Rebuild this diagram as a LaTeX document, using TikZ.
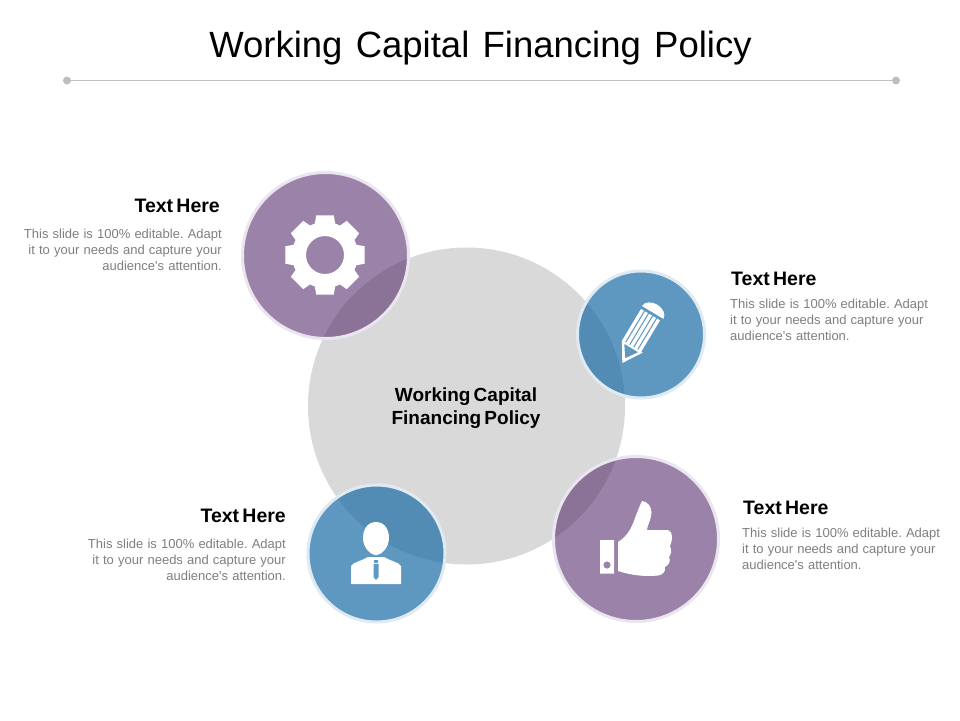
\documentclass[tikz,border=0pt]{standalone}
\usepackage{fontspec}
\setmainfont{Liberation Sans}[BoldFeatures={WordSpace=0.6}]
\newfontfamily\copyfont{Liberation Sans}[WordSpace=1.15]
\frenchspacing
\usetikzlibrary{calc,positioning}
\definecolor{ruleGray}{HTML}{BFBFBF}
\definecolor{hubGray}{HTML}{D9D9D9}
\definecolor{bodyGray}{HTML}{7F7F7F}
\definecolor{plum}{RGB}{88,47,110}
\definecolor{plumRing}{HTML}{EAE5EF}
\definecolor{sky}{RGB}{26,108,166}
\definecolor{skyRing}{HTML}{E0EAF3}
\definecolor{skyFace}{HTML}{5F98C1}
\tikzstyle{dot} = [circle, fill=ruleGray, inner sep=0pt, outer sep=0pt, minimum size=8pt]
\tikzstyle{plumDisc} = [circle, draw=plumRing, line width=3pt, fill=plum, fill opacity=0.6, inner sep=0pt, outer sep=0pt]
\tikzstyle{skyDisc} = [circle, draw=skyRing, line width=3pt, fill=sky, fill opacity=0.7, inner sep=0pt, outer sep=0pt]
\tikzstyle{heading} = [font={\fontsize{19.5}{22}\selectfont\bfseries}, inner sep=0pt]
\tikzstyle{bodyLeft} = [font={\fontsize{13}{16.2}\copyfont}, text=bodyGray, inner sep=0pt, align=right, anchor=north east]
\tikzstyle{bodyRight} = [font={\fontsize{13}{16.2}\copyfont}, text=bodyGray, inner sep=0pt, align=left, anchor=north west]
\begin{document}
\begin{tikzpicture}[x=1pt, y=-1pt]
  \useasboundingbox (0,0) rectangle (960,720);
  \fill[white] (0,0) rectangle (960,720);

  \node (title) at (480.5,48) {\fontsize{36.5}{44}\selectfont\spaceskip=13.3pt Working Capital Financing Policy};
  \node[dot] (dotLeft) at (67,80.5) {};
  \node[dot] (dotRight) at (896,80.5) {};
  \draw[ruleGray, line width=1pt] (dotLeft) -- (dotRight);

  \node[circle, fill=hubGray, inner sep=0pt, minimum size=317pt] (hub) at (466.5,406) {};
  \node[plumDisc, minimum size=166pt] (gearDisc) at (325.5,255.5) {};
  \node[skyDisc, minimum size=127pt] (pencilDisc) at (641,334.5) {};
  \node[skyDisc, minimum size=137pt] (personDisc) at (376.5,553.5) {};
  \node[plumDisc, minimum size=165pt] (thumbDisc) at (636,539) {};

  \node[heading, font={\fontsize{19}{22}\selectfont\bfseries}, align=center] (hubText) at (466,408) {Working Capital\\[1pt]Financing Policy};

  \node[heading, anchor=east] (gearHead) at (220,205.5) {Text Here};
  \node[bodyLeft] (gearBody) at (222,228.5) {This slide is 100\% editable. Adapt\\it to your needs and capture your\\audience's attention.};
  \node[heading, anchor=west] (pencilHead) at (731,278.5) {Text Here};
  \node[bodyRight] (pencilBody) at (730,298.5) {This slide is 100\% editable. Adapt\\it to your needs and capture your\\audience's attention.};
  \node[heading, anchor=east] (personHead) at (286,515.5) {Text Here};
  \node[bodyLeft] (personBody) at (286,538.5) {This slide is 100\% editable. Adapt\\it to your needs and capture your\\audience's attention.};
  \node[heading, anchor=west] (thumbHead) at (743,507.5) {Text Here};
  \node[bodyRight] (thumbBody) at (742,527.5) {This slide is 100\% editable. Adapt\\it to your needs and capture your\\audience's attention.};

  % gear
  \begin{scope}[shift={(325,255)}]
    \foreach \a in {0,45,...,315}
      \fill[white] (\a-19:32) -- (\a-12.5:40.5) -- (\a+12.5:40.5) -- (\a+19:32) -- cycle;
    \fill[white, even odd rule] (0,0) circle (33) (0,0) circle (19);
  \end{scope}

  % pencil
  \begin{scope}[shift={(622.3,363)}, rotate=-31]
    \fill[white, even odd rule] (0,0) -- (12.2,-19.5) -- (-12.2,-19.5) -- cycle
      (0,-5.5) -- (8.2,-17.5) -- (-8.2,-17.5) -- cycle;
    \foreach \s in {-11.8,-7.1,-2.4,2.3,7.0}
      \fill[white] (\s,-19) rectangle ++(3.4,-37);
    \fill[white] (-12.5,-59) arc[start angle=180, end angle=360, x radius=12.5, y radius=9] -- cycle;
  \end{scope}

  % person
  \fill[white] (376,522) .. controls (385,522) and (389,530) .. (389,538) .. controls (389,547) and (382,555) .. (376,555)
    .. controls (370,555) and (363,547) .. (363,538) .. controls (363,530) and (367,522) .. (376,522) -- cycle;
  \fill[white] (351,584) -- (351,566) .. controls (353,562) and (362,561) .. (368,557) -- (384,557)
    .. controls (390,561) and (399,562) .. (401,566) -- (401,584) -- cycle;
  \fill[skyFace] (373.7,560) -- (378.3,560) -- (377.6,563) -- (374.4,563) -- cycle;
  \fill[skyFace] (373.5,564) -- (378.5,564) -- (378.5,577) -- (376,580) -- (373.5,577) -- cycle;

  % thumb
  \fill[white, even odd rule] (600,540) rectangle (614,573.5) (607,565) circle (3.7);
  \fill[white] (618,542) .. controls (626,537) and (631,530) .. (635,518)
    .. controls (638,510) and (640,505) .. (642,501) .. controls (647,501) and (652,507) .. (651.5,513)
    .. controls (651,520) and (647,526) .. (647,530) -- (668,530)
    .. controls (673,531) and (673,540) .. (670,546) .. controls (672,550) and (671,555) .. (669,557)
    .. controls (671,561) and (669,565) .. (665,567) .. controls (666,572) and (662,575) .. (658,575.5)
    .. controls (645,577) and (630,575) .. (618,571) -- cycle;
\end{tikzpicture}
\end{document}
